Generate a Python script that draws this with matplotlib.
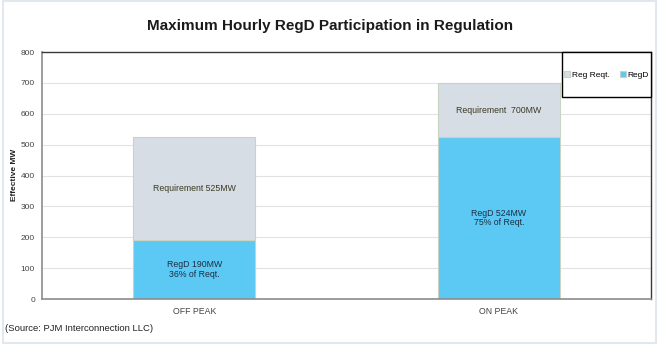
import matplotlib
matplotlib.use("Agg")
import matplotlib.pyplot as plt
from matplotlib.patches import Rectangle

plt.rcParams['font.family'] = ['Liberation Sans', 'DejaVu Sans']

categories = ['OFF PEAK', 'ON PEAK']
regd_mw = [190, 524]
requirement_mw = [525, 700]
pct_of_reqt = [36, 75]

regd_color = '#5BC9F4'
req_color = '#D7DDE5'


def main():
    fig = plt.figure(figsize=(6.6, 3.47), dpi=100)
    ax = fig.add_axes([0.0636, 0.1383, 0.9228, 0.7117])

    x = list(range(len(categories)))
    rest = [r - d for r, d in zip(requirement_mw, regd_mw)]

    ax.bar(x, regd_mw, width=0.4, color=regd_color, edgecolor='#C9D3C4',
           linewidth=0.8, label='RegD', zorder=2)
    ax.bar(x, rest, width=0.4, bottom=regd_mw, color=req_color,
           edgecolor='#C9D3C4', linewidth=0.8, label='Reg Reqt.', zorder=2)

    # labels inside the segments
    for i in x:
        ax.text(i, regd_mw[i] / 2, 'RegD %dMW\n%d%% of Reqt.' % (regd_mw[i], pct_of_reqt[i]),
                ha='center', va='center', fontsize=6.3, color='#1F2D44',
                linespacing=1.1, zorder=3)
        gap = ' ' if i == 0 else '  '
        ax.text(i, (regd_mw[i] + requirement_mw[i]) / 2,
                'Requirement' + gap + '%dMW' % requirement_mw[i],
                ha='center', va='center', fontsize=6.3, color='#3A3A22', zorder=3)

    ax.set_xlim(-0.5, 1.5)
    ax.set_ylim(0, 800)
    ax.set_yticks(range(0, 801, 100))
    ax.set_xticks(x)
    ax.set_xticklabels(categories)
    ax.tick_params(axis='both', labelsize=6, colors='#444444', length=0, pad=5)
    ax.tick_params(axis='x', labelsize=6.3, pad=6)
    ax.yaxis.grid(True, color='#E2E2E2', linewidth=0.8, zorder=0)
    ax.set_axisbelow(True)

    for side in ['left', 'bottom']:
        ax.spines[side].set_color('#8C8C8C')
        ax.spines[side].set_linewidth(1.2)
    for side in ['top', 'right']:
        ax.spines[side].set_color('#3A3A3A')
        ax.spines[side].set_linewidth(1.0)

    fig.text(0.022, 0.495, 'Effective MW', rotation=90, ha='center',
             va='center', fontsize=6, fontweight='bold', color='#222222')

    fig.text(0.5, 0.925, 'Maximum Hourly RegD Participation in Regulation',
             ha='center', va='center', fontsize=11, fontweight='bold',
             color='#1A1A1A')

    fig.text(0.008, 0.052, '(Source: PJM Interconnection LLC)', ha='left',
             va='center', fontsize=6.8, color='#222222')

    # legend box
    fig.patches.append(Rectangle((0.8515, 0.7205), 0.1348, 0.1297,
                                 transform=fig.transFigure, fill=True,
                                 facecolor='white', edgecolor='black',
                                 linewidth=1.0, zorder=5))
    handles, labels = ax.get_legend_handles_labels()
    leg = fig.legend(handles[::-1], labels[::-1], loc='center',
                     bbox_to_anchor=(0.919, 0.785), ncol=2, frameon=False,
                     fontsize=6, handlelength=0.7, handleheight=0.7,
                     handletextpad=0.2, columnspacing=1.2)
    leg.set_zorder(6)

    # faint outer frame
    fig.patches.append(Rectangle((0.004, 0.012), 0.99, 0.985,
                                 transform=fig.transFigure, fill=False,
                                 edgecolor='#E3E8EE', linewidth=1.5))

    fig.savefig('out.png', dpi=100)


if __name__ == "__main__":
    main()
